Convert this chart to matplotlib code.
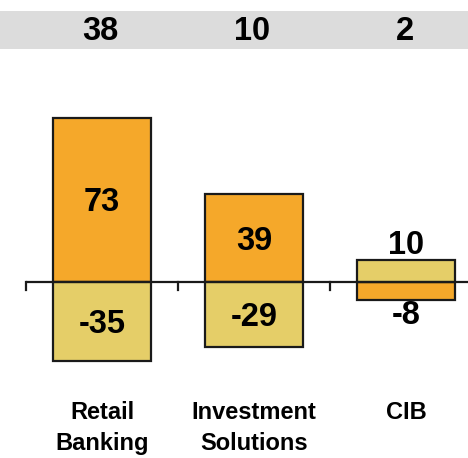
import numpy as np
import matplotlib.pyplot as plt

plt.rcParams['font.family'] = ['Liberation Sans', 'DejaVu Sans']

# Data
categories = ['Retail\nBanking', 'Investment\nSolutions', 'CIB']
totals = [38, 10, 2]
series_a = [73, 39, -8]     # orange
series_b = [-35, -29, 10]   # light yellow

orange = '#F5A82A'
yellow = '#E5CE68'

fig = plt.figure(figsize=(4.68, 4.58), dpi=100)
ax = fig.add_axes([0, 0, 1, 1])

x = np.arange(len(categories))
# y scale: zero at pixel 282 (from top), 2.25 px per unit
ppu = 2.25
ax.set_xlim(-0.671, 2.408)
ax.set_ylim((282 - 458) / ppu, 282 / ppu)
ax.axis('off')

def ypix(p):
    return (282 - p) / ppu

# grey band with totals on top
ax.axhspan(ypix(49), ypix(11), color='#DCDCDC', lw=0, zorder=0)

w = 0.64
ax.bar(x, series_a, width=w, color=orange, edgecolor='#1a1a1a', linewidth=1.6, zorder=2)
ax.bar(x, series_b, width=w, color=yellow, edgecolor='#1a1a1a', linewidth=1.6, zorder=2)

# baseline with tick marks between categories
ax.plot([-0.5, 2.408], [0, 0], color='#1a1a1a', lw=1.6, zorder=3, solid_capstyle='butt')
for t in np.arange(-0.5, 2.5, 1.0):
    ax.plot([t, t], [0, -3.6], color='#1a1a1a', lw=1.6, zorder=3)

fs = 23.5
for i in range(len(categories)):
    a, b = series_a[i], series_b[i]
    for v in (a, b):
        if abs(v) >= 20:
            ax.text(x[i], v / 2 - 1.3, f'{v}', ha='center', va='center', fontsize=fs,
                    fontweight='bold', zorder=4)
        elif v > 0:
            ax.text(x[i], v - 0.8, f'{v}', ha='center', va='bottom', fontsize=fs,
                    fontweight='bold', zorder=4)
        else:
            ax.text(x[i], v - 0.2, f'{v}', ha='center', va='top', fontsize=fs,
                    fontweight='bold', zorder=4)

for i, t in enumerate(totals):
    ax.text(x[i] - 0.01, ypix(31), f'{t}', ha='center', va='center', fontsize=fs,
            fontweight='bold', zorder=4)

# category labels
for i, c in enumerate(categories):
    ax.text(x[i], ypix(401), c, ha='center', va='top', fontsize=17,
            fontweight='bold', linespacing=1.45)

fig.savefig('out.png', dpi=100)
